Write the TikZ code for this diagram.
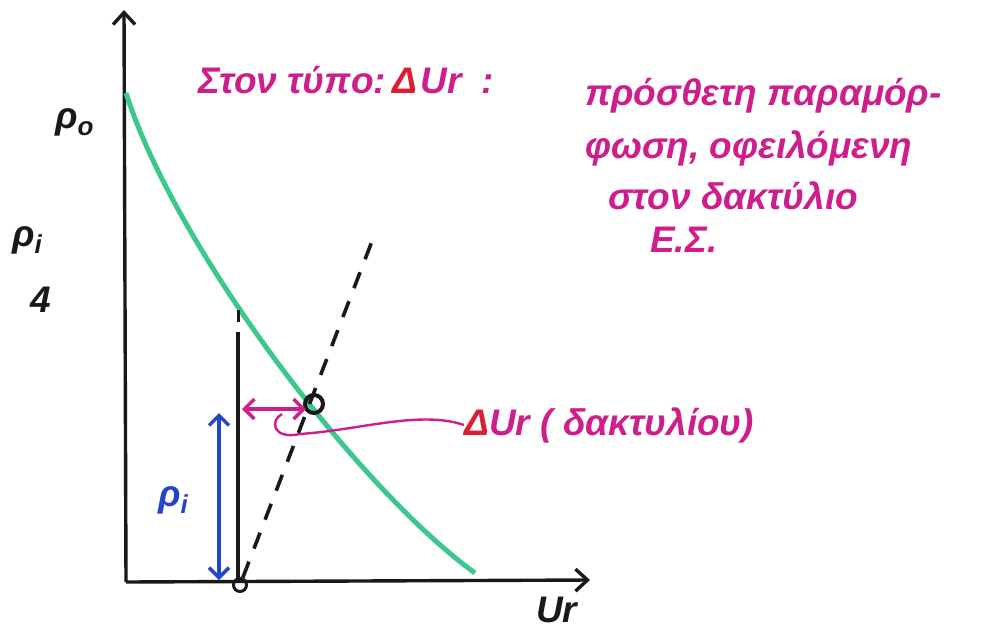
\documentclass[tikz,border=0pt]{standalone}
\usepackage{fontspec}
\setmainfont{Liberation Sans}
\usetikzlibrary{arrows.meta}
\definecolor{ink}{RGB}{25,25,25}
\definecolor{mag}{RGB}{205,30,140}
\definecolor{grn}{RGB}{60,200,140}
\definecolor{blu}{RGB}{35,70,200}
\definecolor{redd}{RGB}{220,30,50}
\newcommand{\mysubfont}{\bfseries\itshape\fontsize{26}{28}\selectfont}
\tikzset{
  axis/.style={draw=ink, line width=3.4pt, -{Straight Barb[length=12pt,width=22pt,line width=3.4pt]}},
  hand/.style={font=\bfseries\itshape\fontsize{37}{40}\selectfont, inner sep=0pt, anchor=west},
  dbl/.style={line width=3.6pt, {Straight Barb[length=10pt,width=20pt,line width=3.4pt]}-{Straight Barb[length=10pt,width=20pt,line width=3.4pt]}}
}
\begin{document}
\begin{tikzpicture}[x=1pt,y=-1pt]
\useasboundingbox (0,0) rectangle (988,635);
% axes
\coordinate (O) at (126,582);
\coordinate (ytop) at (124,10);
\coordinate (xend) at (590,580);
\draw[axis] (O) -- (ytop);
\draw[axis] (O) -- (xend);
% green curve
\coordinate (g0) at (126,93);
\coordinate (g1) at (475,573);
\draw[grn, line width=5pt] (g0) .. controls (176,250) and (360,490) .. (g1);
% vertical line
\coordinate (v0) at (238,310);
\coordinate (v1) at (238,322);
\coordinate (v2) at (238,332);
\coordinate (v3) at (238,578);
\draw[ink, line width=3pt] (v0) -- (v1);
\draw[ink, line width=4pt] (v2) -- (v3);
% dashed line
\coordinate (dtop) at (374,236);
\node[draw=ink, circle, line width=3pt, minimum size=13pt, inner sep=0pt] (c0) at (240,585) {};
\node[draw=ink, circle, line width=4pt, minimum size=18pt, inner sep=0pt] (c1) at (314,404) {};
\draw[ink, line width=3.6pt, dash pattern=on 17pt off 14pt] (c0) -- (dtop);
% magenta double arrow and label
\coordinate (ma) at (242,409);
\coordinate (mb) at (306,409);
\draw[mag, dbl] (ma) -- (mb);
\node[hand, mag] (du) at (464,425) {\textcolor{redd}{Δ}Ur ( δακτυλίου)};
\draw[mag, line width=2.4pt] (282,414) .. controls (270,420) and (272,440) .. (300,434) .. controls (360,430) and (420,410) .. (du.west);
% blue double arrow
\coordinate (b0) at (219,413);
\coordinate (b1) at (219,580);
\draw[blu, dbl] (b0) -- (b1);
\node[hand, blu] (pi2) at (158,500) {ρ\raisebox{-7pt}{\mysubfont i}};
% axis labels
\node[hand, ink] (po) at (55,122) {ρ\raisebox{-7pt}{\mysubfont o}};
\node[hand, ink] (pi) at (12,240) {ρ\raisebox{-7pt}{\mysubfont i}};
\node[hand, ink] (four) at (30,300) {4};
\node[hand, ink] (ur) at (536,610) {Ur};
% magenta text
\node[hand, mag] (t1) at (198,80) {Στον τύπο:\hspace{6pt}\textcolor{redd}{Δ}\hspace{4pt}Ur\hspace{20pt}:};
\node[hand, mag] (t2) at (585,96) {πρόσθετη παραμόρ-};
\node[hand, mag] (t3) at (585,148) {φωση, οφειλόμενη};
\node[hand, mag] (t4) at (608,196) {στον δακτύλιο};
\node[hand, mag] (t5) at (650,240) {Ε.Σ.};
\end{tikzpicture}
\end{document}
